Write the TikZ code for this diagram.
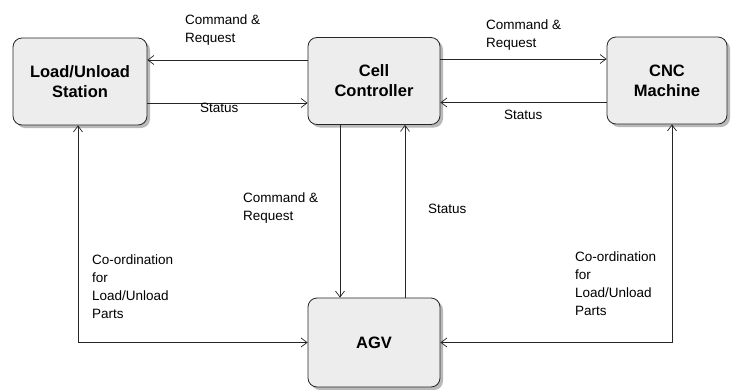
\documentclass[tikz,border=0pt]{standalone}
\usepackage{fontspec}
\setmainfont{Liberation Sans}
\usetikzlibrary{arrows.meta}
\usetikzlibrary{shadows}

\begin{document}
\begin{tikzpicture}[x=1pt,y=-1pt,
  >={Straight Barb[length=6pt,width=9pt]},
  unit/.style={draw=black!85, line width=0.8pt, rounded corners=9pt, fill=gray!14,
    drop shadow={shadow xshift=3pt, shadow yshift=-3pt, fill=gray!55, opacity=1},
    font=\fontsize{16.5}{20}\selectfont\bfseries, align=center, inner sep=0pt},
  msg/.style={font=\fontsize{13.5}{18}\selectfont, align=left, anchor=north west, inner sep=0pt},
  link/.style={black!85, line width=0.7pt}]

\useasboundingbox (0,0) rectangle (732,389);

\node[unit, minimum width=134pt, minimum height=87pt] (load) at (80,81.5) {Load/Unload\\Station};
\node[unit, minimum width=132pt, minimum height=87pt] (cell) at (374,81) {Cell\\Controller};
\node[unit, minimum width=120pt, minimum height=87pt] (cnc) at (667,80.5) {CNC\\Machine};
\node[unit, minimum width=132pt, minimum height=89pt] (agv) at (374,342.5) {AGV};

\draw[link, ->] ([yshift=21pt]cell.west) -- ([yshift=21pt]cell.west -| load.east);
\draw[link, ->] ([yshift=-21.5pt]load.east) -- ([yshift=-21.5pt]load.east -| cell.west);
\draw[link, ->] ([yshift=22pt]cell.east) -- ([yshift=22pt]cell.east -| cnc.west);
\draw[link, ->] ([yshift=-22pt]cnc.west) -- ([yshift=-22pt]cnc.west -| cell.east);
\draw[link, ->] ([xshift=-34pt]cell.south) -- ([xshift=-34pt]cell.south |- agv.north);
\draw[link, ->] ([xshift=31pt]agv.north) -- ([xshift=31pt]agv.north |- cell.south);
\draw[link, <->] ([xshift=-2pt]load.south) |- (agv.west);
\draw[link, <->] ([xshift=5pt]cnc.south) |- (agv.east);

\node[msg] (cmdload) at (185,14.5) {Command \&\\Request};
\node[msg] (statload) at (200,102.5) {Status};
\node[msg] (cmdcnc) at (486,19.5) {Command \&\\Request};
\node[msg] (statcnc) at (504,109.5) {Status};
\node[msg] (cmdagv) at (243,192.5) {Command \&\\Request};
\node[msg] (statagv) at (428,203.5) {Status};
\node[msg] (coordleft) at (92,254.5) {Co-ordination\\for\\Load/Unload\\Parts};
\node[msg] (coordright) at (575,251.5) {Co-ordination\\for\\Load/Unload\\Parts};

\end{tikzpicture}
\end{document}
